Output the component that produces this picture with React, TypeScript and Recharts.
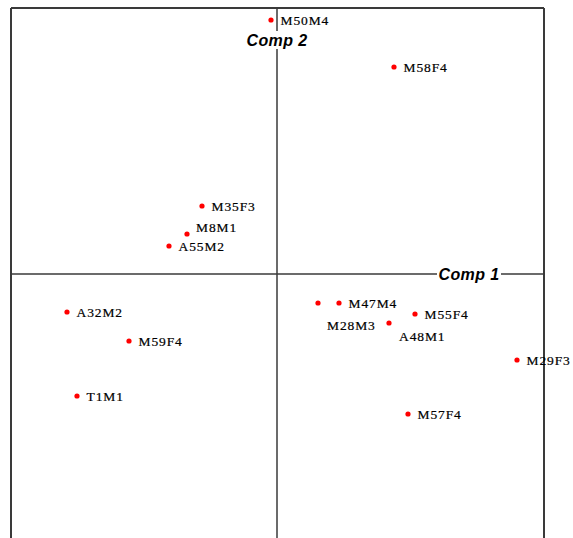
import React from "react";
import { ReferenceDot, ReferenceLine, Scatter, ScatterChart, XAxis, YAxis } from "recharts";

// principal component scores for each sample
const sampleNames = [
  "M50M4", "M58F4", "M35F3", "M8M1", "A55M2", "A32M2", "M59F4",
  "T1M1", "M28M3", "M47M4", "M55F4", "A48M1", "M29F3", "M57F4",
];
const comp1Scores = [-0.06, 1.17, -0.75, -0.9, -1.08, -2.1, -1.48, -2.0, 0.41, 0.62, 1.38, 1.12, 2.4, 1.31];
const comp2Scores = [2.54, 2.07, 0.68, 0.4, 0.28, -0.38, -0.67, -1.22, -0.29, -0.29, -0.4, -0.49, -0.86, -1.4];

const xDomain: [number, number] = [-2.66, 2.67];
const yDomain: [number, number] = [-2.66, 2.66];

const axisTitles = { x: "Comp 1", y: "Comp 2" };

const points = sampleNames.map((name, i) => ({ name, x: comp1Scores[i], y: comp2Scores[i] }));

// labels that had to be nudged away from neighbours
const labelShift: Record<string, [number, number]> = {
  M8M1: [9, -7],
  M28M3: [9, 22],
  A48M1: [10, 13],
};

const lineColor = "#3a3a3a";

const Point = (props: any) => {
  const { cx, cy, payload } = props;
  const [dx, dy] = labelShift[payload.name] ?? [9.5, 0];
  return (
    <g>
      <circle cx={cx} cy={cy} r={2.6} fill="#ff0000" />
      <text
        x={cx + dx}
        y={cy + dy}
        dy={4.5}
        fontFamily="'Liberation Serif', serif"
        fontSize={13.5}
        letterSpacing={0.9}
        stroke="#000"
        strokeWidth={0.2}
        fill="#000"
      >
        {payload.name}
      </text>
    </g>
  );
};

const AxisTitle = (text: string, width: number) => (props: any) => {
  const { cx, cy } = props;
  return (
    <g>
      <rect x={cx - width / 2} y={cy - 9} width={width} height={18} fill="#fff" />
      <text
        x={cx}
        y={cy}
        dy={5.5}
        textAnchor="middle"
        fontFamily="'Liberation Sans', Arial, sans-serif"
        fontWeight="bold"
        fontStyle="italic"
        fontSize={16}
        letterSpacing={0.4}
        fill="#000"
      >
        {text}
      </text>
    </g>
  );
};

export default function App() {
  return (
    <div style={{ position: "absolute", left: 0, top: 0, background: "#fff" }}>
      <ScatterChart width={573} height={560} margin={{ top: 8, left: 11, right: 29, bottom: 20 }}>
        <XAxis type="number" dataKey="x" domain={xDomain} hide />
        <YAxis type="number" dataKey="y" domain={yDomain} hide />
        <ReferenceLine x={xDomain[0]} stroke={lineColor} strokeWidth={2} />
        <ReferenceLine x={xDomain[1]} stroke={lineColor} strokeWidth={2} />
        <ReferenceLine y={yDomain[1]} stroke={lineColor} strokeWidth={2} />
        <ReferenceLine x={0} stroke={lineColor} strokeWidth={1.5} />
        <ReferenceLine y={0} stroke={lineColor} strokeWidth={1.5} />
        <ReferenceDot x={1.92} y={0} r={0} shape={AxisTitle(axisTitles.x, 64)} />
        <ReferenceDot x={0} y={2.34} r={0} shape={AxisTitle(axisTitles.y, 66)} />
        <Scatter data={points} shape={Point} isAnimationActive={false} />
      </ScatterChart>
    </div>
  );
}
